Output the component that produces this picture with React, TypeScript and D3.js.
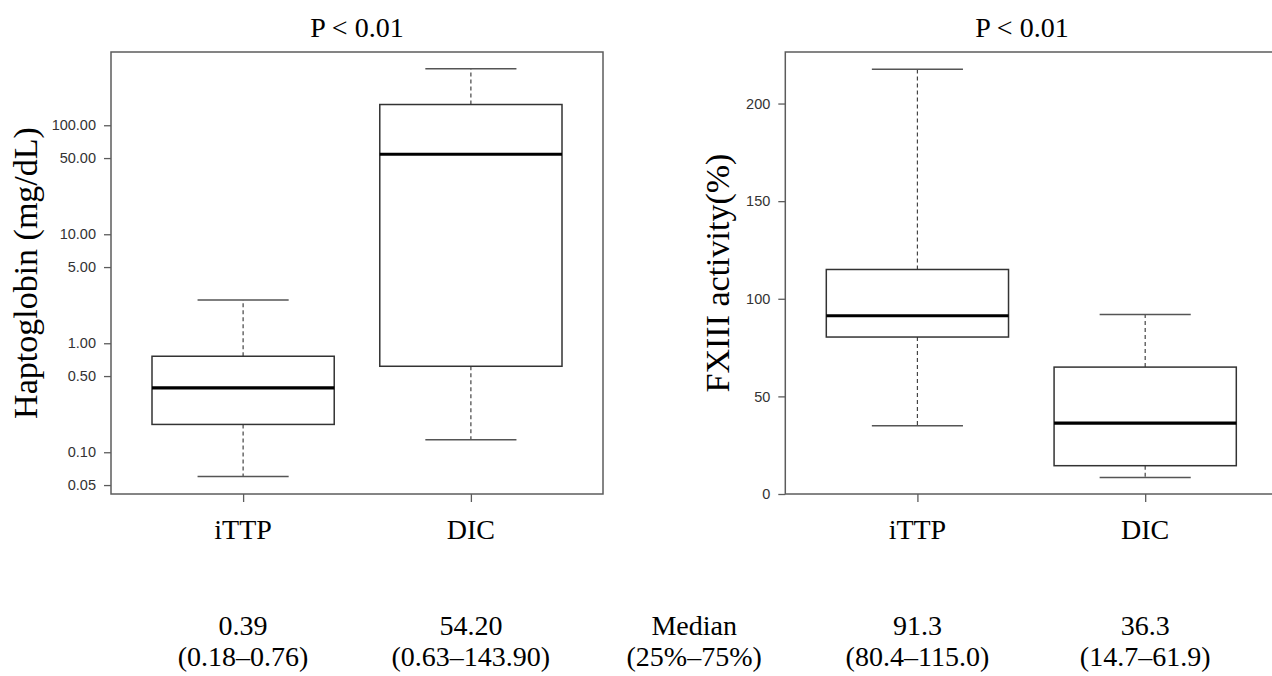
import React, { useEffect, useRef } from 'react';
import * as d3 from 'd3';

const groups = ['iTTP', 'DIC'];

// Haptoglobin (mg/dL), log scale
const haptoLow = [0.06, 0.13];
const haptoQ1 = [0.18, 0.615];
const haptoMedian = [0.39, 54.2];
const haptoQ3 = [0.76, 155];
const haptoHigh = [2.5, 330];
const haptoTicks = [0.05, 0.1, 0.5, 1, 5, 10, 50, 100];

// FXIII activity (%)
const fxLow = [35, 8.4];
const fxQ1 = [80.4, 14.5];
const fxMedian = [91.3, 36.3];
const fxQ3 = [115, 65];
const fxHigh = [217.6, 92];
const fxTicks = [0, 50, 100, 150, 200];

const pLabels = ['P < 0.01', 'P < 0.01'];
const tableMedians = ['0.39', '54.20', 'Median', '91.3', '36.3'];
const tableRanges = ['(0.18–0.76)', '(0.63–143.90)', '(25%–75%)', '(80.4–115.0)', '(14.7–61.9)'];

const serif = '"Liberation Serif", "Times New Roman", serif';
const sans = '"Liberation Sans", Arial, sans-serif';

const App = () => {
  const svgRef = useRef<SVGSVGElement>(null);

  useEffect(() => {
    drawChart();
  }, []);

  const drawChart = () => {
    const width = 1272;
    const height = 676;
    const svg = d3.select(svgRef.current).attr('width', width).attr('height', height);
    svg.selectAll('*').remove();

    const top = 52;
    const bottom = 494;

    const panels = [
      {
        left: 111,
        title: pLabels[0],
        titleX: 357,
        ylabel: 'Haptoglobin (mg/dL)',
        ylabelX: 37,
        y: d3.scaleLog().domain([0.0414, 470]).range([bottom, top]),
        ticks: haptoTicks,
        fmt: d3.format('.2f'),
        low: haptoLow, q1: haptoQ1, med: haptoMedian, q3: haptoQ3, high: haptoHigh,
      },
      {
        left: 785.3,
        title: pLabels[1],
        titleX: 1022,
        ylabel: 'FXIII activity(%)',
        ylabelX: 729,
        y: d3.scaleLinear().domain([0, 226.4]).range([bottom, top]),
        ticks: fxTicks,
        fmt: d3.format('d'),
        low: fxLow, q1: fxQ1, med: fxMedian, q3: fxQ3, high: fxHigh,
      },
    ];

    const centers: number[] = [];

    panels.forEach(p => {
      const x = d3.scaleLinear().domain([0.42, 2.58]).range([p.left, p.left + 492]);
      const g = svg.append('g');
      const bw = x(1.8) - x(1);
      const sw = bw / 2;

      // frame
      g.append('rect')
        .attr('x', p.left).attr('y', top)
        .attr('width', 492).attr('height', bottom - top)
        .attr('fill', 'none').attr('stroke', '#5c5c5c').attr('stroke-width', 1.5);

      // y axis
      const ya = g.append('g')
        .attr('transform', `translate(${p.left},0)`)
        .call(d3.axisLeft(p.y as any).tickValues(p.ticks).tickSize(7).tickPadding(8).tickFormat(p.fmt as any));
      ya.select('.domain').remove();
      ya.selectAll('line').attr('stroke', '#5c5c5c').attr('stroke-width', 1.3);
      ya.selectAll('text').attr('font-family', sans).attr('font-size', 14.5).attr('fill', '#333');

      // x axis ticks
      const xa = g.append('g')
        .attr('transform', `translate(0,${bottom})`)
        .call(d3.axisBottom(x).tickValues([1, 2]).tickSize(8).tickFormat(() => ''));
      xa.select('.domain').remove();
      xa.selectAll('line').attr('stroke', '#5c5c5c').attr('stroke-width', 1.3);

      groups.forEach((name, i) => {
        const cx = x(i + 1);
        centers.push(cx);
        const yv = p.y as any;

        // whiskers
        [[p.q3[i], p.high[i]], [p.q1[i], p.low[i]]].forEach(([a, b]) => {
          g.append('line')
            .attr('x1', cx).attr('x2', cx).attr('y1', yv(a)).attr('y2', yv(b))
            .attr('stroke', '#444').attr('stroke-width', 1.2).attr('stroke-dasharray', '4,3');
          g.append('line')
            .attr('x1', cx - sw / 2).attr('x2', cx + sw / 2).attr('y1', yv(b)).attr('y2', yv(b))
            .attr('stroke', '#555').attr('stroke-width', 1.5);
        });

        // box
        g.append('rect')
          .attr('x', cx - bw / 2).attr('width', bw)
          .attr('y', yv(p.q3[i])).attr('height', yv(p.q1[i]) - yv(p.q3[i]))
          .attr('fill', 'white').attr('stroke', '#333').attr('stroke-width', 1.5);

        // median
        g.append('line')
          .attr('x1', cx - bw / 2).attr('x2', cx + bw / 2)
          .attr('y1', yv(p.med[i])).attr('y2', yv(p.med[i]))
          .attr('stroke', '#000').attr('stroke-width', 3.2);

        g.append('text')
          .attr('x', cx).attr('y', 539)
          .attr('text-anchor', 'middle')
          .attr('font-family', serif).attr('font-size', 28)
          .text(name);
      });

      g.append('text')
        .attr('x', p.titleX).attr('y', 37)
        .attr('text-anchor', 'middle')
        .attr('font-family', serif).attr('font-size', 28)
        .text(p.title);

      g.append('text')
        .attr('transform', `translate(${p.ylabelX},${(top + bottom) / 2}) rotate(-90)`)
        .attr('text-anchor', 'middle')
        .attr('font-family', serif).attr('font-size', 34)
        .text(p.ylabel);
    });

    // summary table underneath
    const cols = [centers[0], centers[1], (centers[1] + centers[2]) / 2, centers[2], centers[3]];
    svg.selectAll('text.med')
      .data(tableMedians)
      .join('text')
      .attr('class', 'med')
      .attr('x', (d, i) => cols[i]).attr('y', 635)
      .attr('text-anchor', 'middle')
      .attr('font-family', serif).attr('font-size', 28)
      .text(d => d);

    svg.selectAll('text.rng')
      .data(tableRanges)
      .join('text')
      .attr('class', 'rng')
      .attr('x', (d, i) => cols[i]).attr('y', 666)
      .attr('text-anchor', 'middle')
      .attr('font-family', serif).attr('font-size', 28)
      .text(d => d);
  };

  return (
    <div style={{ position: 'absolute', left: 0, top: 0, width: 1272, height: 676, background: 'white' }}>
      <svg ref={svgRef} style={{ display: 'block' }}></svg>
    </div>
  );
};

export default App;
